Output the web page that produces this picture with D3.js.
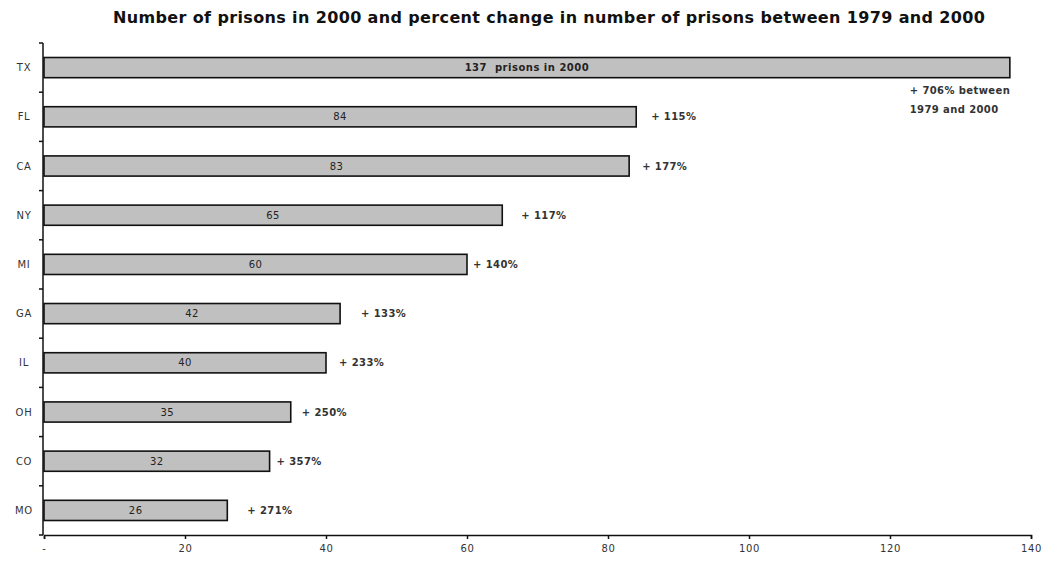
<!DOCTYPE html>
<html lang="en">
<head>
    <meta charset="UTF-8">
    <title>Prisons 2000</title>
    <script src="https://d3js.org/d3.v7.min.js"></script>
    <style>
        body { margin: 0; background: #fff; }
        text { font-family: "DejaVu Sans", Arial, sans-serif; }
        .title { font-family: "DejaVu Sans", sans-serif; font-size: 16px; font-weight: bold; fill: #111; }
        .axis path, .axis line { stroke: #111; stroke-width: 1.5; }
        .axis text, .ylab { font-family: "DejaVu Sans", sans-serif; font-size: 10px; letter-spacing: 0.7px; fill: #333; }
        .val { font-size: 10px; letter-spacing: 0.5px; fill: #222; white-space: pre; }
        .pct { font-size: 10px; font-weight: bold; letter-spacing: 0.4px; fill: #333; }
    </style>
</head>
<body>
    <div id="chart-container"></div>

    <script>
        // data
        const states = ["TX", "FL", "CA", "NY", "MI", "GA", "IL", "OH", "CO", "MO"];
        const prisons = [137, 84, 83, 65, 60, 42, 40, 35, 32, 26];
        const pctChange = [706, 115, 177, 117, 140, 133, 233, 250, 357, 271];
        const xTicks = [0, 20, 40, 60, 80, 100, 120, 140];

        // gap (px) between bar end and the percent label, as in the original
        const pctGap = [0, 15, 13, 19, 6, 21, 13, 11, 7, 20];

        const containerWidth = 1047;
        const containerHeight = 562;
        const margins = { top: 43, right: 16, bottom: 27, left: 43 };
        const width = containerWidth - margins.left - margins.right;
        const height = containerHeight - margins.top - margins.bottom;

        const svg = d3.select("#chart-container")
            .append("svg")
            .attr("width", containerWidth)
            .attr("height", containerHeight);

        svg.append("text")
            .attr("class", "title")
            .attr("x", 113)
            .attr("y", 23)
            .attr("textLength", 872)
            .attr("lengthAdjust", "spacing")
            .text("Number of prisons in 2000 and percent change in number of prisons between 1979 and 2000");

        const g = svg.append("g")
            .attr("transform", `translate(${margins.left},${margins.top})`);

        const x = d3.scaleLinear()
            .domain([0, 140])
            .range([1, 988]);

        const y = d3.scaleBand()
            .domain(states)
            .range([0, height])
            .paddingInner(0.59)
            .paddingOuter(0.295);

        // y axis: line with ticks between categories
        const band = height / states.length;
        g.append("line")
            .attr("x1", 0).attr("x2", 0)
            .attr("y1", 0).attr("y2", height)
            .attr("stroke", "#111").attr("stroke-width", 1.5);
        g.selectAll(".ytick")
            .data(d3.range(states.length + 1))
            .join("line")
            .attr("class", "ytick")
            .attr("x1", -4).attr("x2", 0)
            .attr("y1", i => i * band).attr("y2", i => i * band)
            .attr("stroke", "#111").attr("stroke-width", 1.5);
        g.selectAll(".ylab")
            .data(states)
            .join("text")
            .attr("class", "ylab")
            .attr("x", -19)
            .attr("y", d => y(d) + y.bandwidth() / 2)
            .attr("dy", "0.35em")
            .attr("text-anchor", "middle")
            .text(d => d);

        // x axis
        g.append("g")
            .attr("class", "axis")
            .attr("transform", `translate(0, ${height})`)
            .call(d3.axisBottom(x)
                .tickValues(xTicks)
                .tickSize(4)
                .tickSizeOuter(4)
                .tickPadding(6)
                .tickFormat(d => d === 0 ? "-" : d));

        // bars
        g.selectAll(".bar")
            .data(states)
            .join("rect")
            .attr("class", "bar")
            .attr("x", x(0))
            .attr("y", d => y(d))
            .attr("width", (d, i) => x(prisons[i]) - x(0))
            .attr("height", y.bandwidth())
            .attr("fill", "#c0c0c0")
            .attr("stroke", "#111")
            .attr("stroke-width", 1.6);

        // values inside bars
        g.selectAll(".val")
            .data(states)
            .join("text")
            .attr("class", "val")
            .attr("x", (d, i) => (x(0) + x(prisons[i])) / 2)
            .attr("y", d => y(d) + y.bandwidth() / 2)
            .attr("dy", "0.35em")
            .attr("text-anchor", "middle")
            .attr("font-weight", (d, i) => i === 0 ? "bold" : "normal")
            .text((d, i) => i === 0 ? prisons[i] + "  prisons in 2000" : prisons[i]);

        // percent change labels
        g.selectAll(".pct")
            .data(states.slice(1))
            .join("text")
            .attr("class", "pct")
            .attr("x", (d, i) => x(prisons[i + 1]) + pctGap[i + 1])
            .attr("y", d => y(d) + y.bandwidth() / 2)
            .attr("dy", "0.35em")
            .text((d, i) => "+ " + pctChange[i + 1] + "%");

        // TX note below its bar
        const txNote = g.append("text")
            .attr("class", "pct")
            .attr("x", x(122.8))
            .attr("y", y("TX") + y.bandwidth() + 16);
        txNote.append("tspan").text("+ " + pctChange[0] + "% between");
        txNote.append("tspan")
            .attr("x", x(122.8))
            .attr("dy", 19)
            .text("1979 and 2000");
    </script>
</body>
</html>
